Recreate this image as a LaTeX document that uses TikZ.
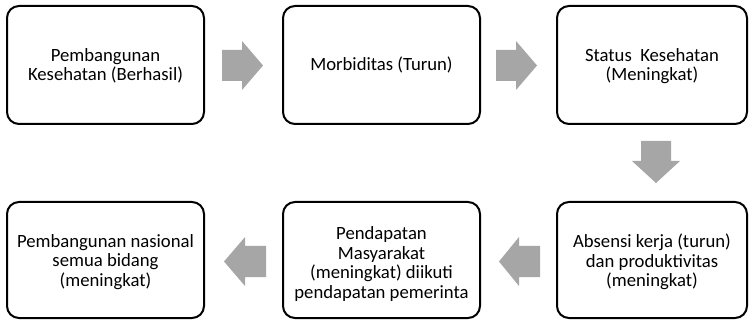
\documentclass[tikz,border=0pt]{standalone}
\usepackage{fontspec}
\setmainfont{Carlito}
\begin{document}
\begin{tikzpicture}[x=1pt,y=-1pt,
  box/.style={draw=black,line width=2pt,rounded corners=12pt,fill=white},
  lbl/.style={align=center,font=\fontsize{18.7}{19.6}\selectfont,inner sep=0pt},
  blockarrow/.style={fill=black!35,draw=none}]
\useasboundingbox (0,0) rectangle (749,320);
% boxes
\draw[box] (7,6) rectangle (204,124);
\draw[box] (283,6) rectangle (480,124);
\draw[box] (557,6) rectangle (747,124);
\draw[box] (7,202) rectangle (204,318);
\draw[box] (283,202) rectangle (480,318);
\draw[box] (557,202) rectangle (747,318);
% labels
\node[lbl] (b1) at (105.5,66) {Pembangunan\\Kesehatan (Berhasil)};
\node[lbl] (b2) at (381.5,65) {Morbiditas (Turun)};
\node[lbl] (b3) at (652,66) {Status\ \ Kesehatan\\(Meningkat)};
\node[lbl] (b6) at (652,262) {Absensi kerja (turun)\\dan produktivitas\\(meningkat)};
\node[lbl] (b5) at (381.5,264) {Pendapatan\\Masyarakat\\(meningkat) diikuti\\pendapatan pemerinta};
\node[lbl] (b4) at (105.5,262) {Pembangunan nasional\\semua bidang\\(meningkat)};
% block arrows
\fill[blockarrow] (222,50) -- (242,50) -- (242,41) -- (263,65.5) -- (242,90) -- (242,81) -- (222,81) -- cycle;
\fill[blockarrow] (496,50) -- (516,50) -- (516,41) -- (537,65.5) -- (516,90) -- (516,81) -- (496,81) -- cycle;
\fill[blockarrow] (641,141) -- (671,141) -- (671,161) -- (680,161) -- (656,183) -- (632,161) -- (641,161) -- cycle;
\fill[blockarrow] (540,246) -- (519,246) -- (519,237) -- (499,261.5) -- (519,286) -- (519,277) -- (540,277) -- cycle;
\fill[blockarrow] (266,246) -- (245,246) -- (245,237) -- (224,261.5) -- (245,286) -- (245,277) -- (266,277) -- cycle;
\end{tikzpicture}
\end{document}
